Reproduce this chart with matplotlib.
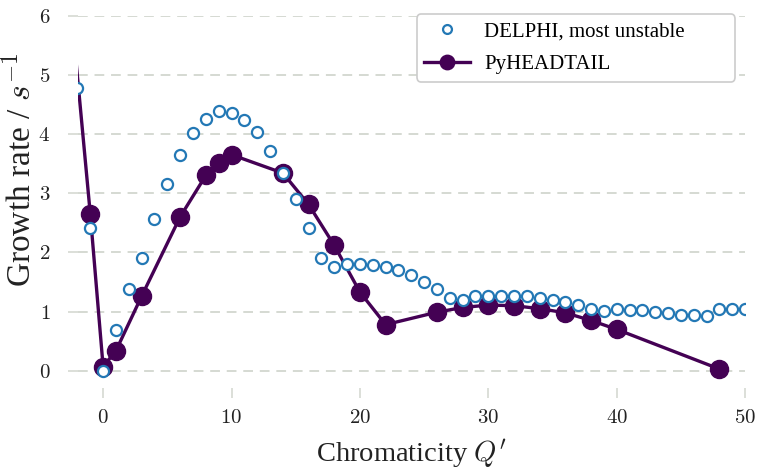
import matplotlib
matplotlib.use("Agg")
import matplotlib.pyplot as plt
from matplotlib.ticker import FuncFormatter

# DELPHI, most unstable mode
delphi_q = list(range(-2, 51))
delphi_rate = [4.77, 2.42, 0.00, 0.69, 1.39, 1.91, 2.56, 3.16, 3.64, 4.01,
               4.26, 4.38, 4.35, 4.24, 4.04, 3.71, 3.34, 2.90, 2.42, 1.91,
               1.76, 1.81, 1.81, 1.79, 1.76, 1.70, 1.61, 1.50, 1.38, 1.23,
               1.20, 1.27, 1.27, 1.27, 1.27, 1.26, 1.23, 1.20, 1.17, 1.11,
               1.05, 1.01, 1.04, 1.02, 1.02, 1.00, 0.98, 0.95, 0.94, 0.93,
               1.05, 1.05, 1.05]

# PyHEADTAIL
pyht_q = [-3, -1, 0, 1, 3, 6, 8, 9, 10, 14, 16, 18, 20, 22, 26, 28, 30, 32, 34, 36, 38, 40, 48]
pyht_rate = [7.3, 2.65, 0.07, 0.34, 1.26, 2.60, 3.30, 3.51, 3.65, 3.34, 2.81, 2.12,
             1.33, 0.78, 0.99, 1.07, 1.11, 1.10, 1.05, 0.98, 0.85, 0.70, 0.03]

xticks = [0, 10, 20, 30, 40, 50]
yticks = [0, 1, 2, 3, 4, 5, 6]

plt.rcParams['font.family'] = ['Liberation Serif', 'DejaVu Serif']
plt.rcParams['mathtext.fontset'] = 'cm'

fig = plt.figure(figsize=(7.58, 4.72), dpi=100)
ax = fig.add_axes([0.103, 0.178, 0.880, 0.789])

grid_color = '#d5d9d2'
ax.grid(axis='y', color=grid_color, linestyle=(0, (5, 3.5)), linewidth=1.4, zorder=0)
ax.set_axisbelow(True)

ax.plot(delphi_q, delphi_rate, linestyle='none', marker='o', markersize=8,
        markerfacecolor='white', markeredgecolor='#2378b5', markeredgewidth=1.6,
        label='DELPHI, most unstable', zorder=3)
ax.plot(pyht_q, pyht_rate, color='#440154', linewidth=2.4, marker='o',
        markersize=13, label='PyHEADTAIL', zorder=2)

ax.set_xlim(-1.95, 50)
ax.set_ylim(-0.29, 6)
ax.set_xticks(xticks)
ax.set_yticks(yticks)
fmt = FuncFormatter(lambda v, p: r'$%d$' % v)
ax.xaxis.set_major_formatter(fmt)
ax.yaxis.set_major_formatter(fmt)
ax.tick_params(axis='both', colors=grid_color, length=7, width=1.2,
               labelcolor='#222222', labelsize=15)
ax.tick_params(axis='x', pad=8)
ax.tick_params(axis='y', pad=13)

for s in ax.spines.values():
    s.set_visible(False)

ax.set_xlabel(r"Chromaticity $Q'$", fontsize=20.5, color='#222222', labelpad=7)
ax.set_ylabel(r"Growth rate / $s^{-1}$", fontsize=24, color='#222222')
ax.yaxis.set_label_coords(-0.06, 0.586)

leg = ax.legend(loc='upper left', fontsize=15, frameon=True, fancybox=True,
                edgecolor='#cccccc', framealpha=1, borderpad=0.34,
                labelspacing=0.66, handlelength=2.2, handletextpad=0.7,
                markerscale=0.8, borderaxespad=0, mode='expand',
                bbox_to_anchor=(0.508, 0.0, 0.477, 1.003))
leg.get_frame().set_linewidth(1.2)

fig.savefig('out.png', dpi=100)
